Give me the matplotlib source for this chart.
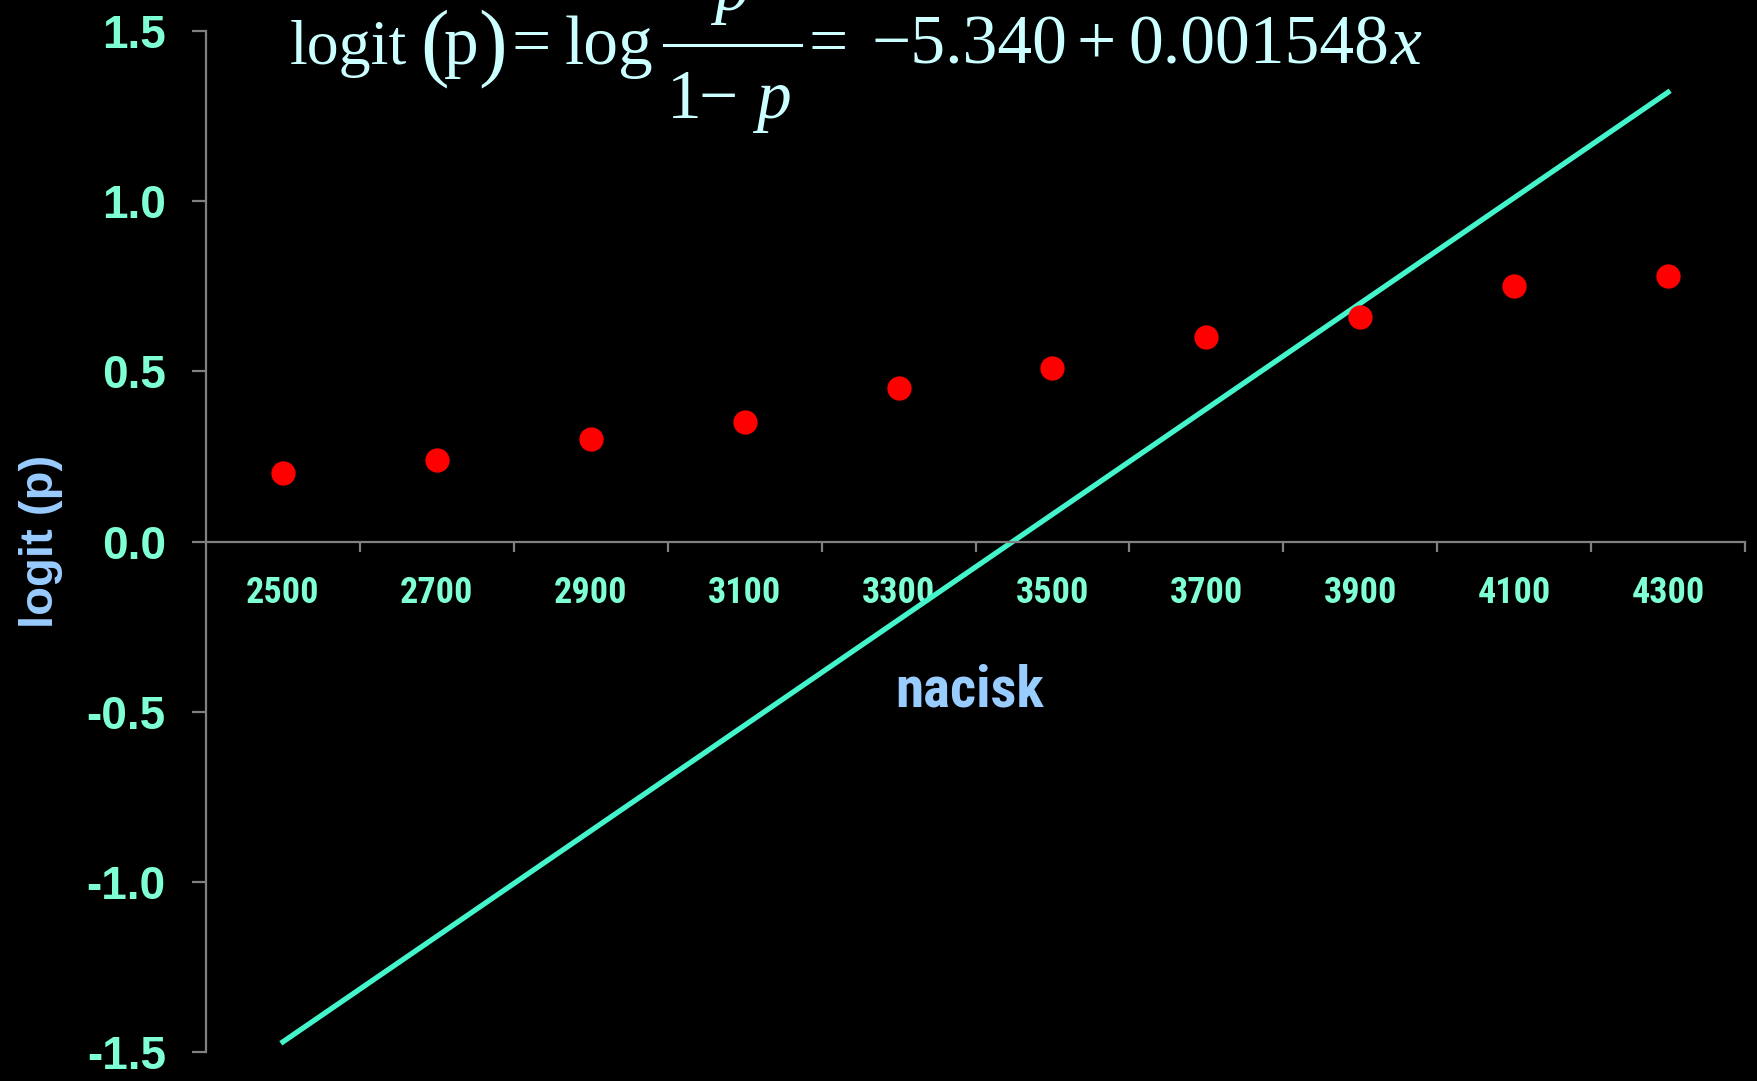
import matplotlib.pyplot as plt
from matplotlib.lines import Line2D
from matplotlib.ticker import FixedLocator, NullFormatter

# data
nacisk = [2500, 2700, 2900, 3100, 3300, 3500, 3700, 3900, 4100, 4300]
logit_p = [0.20, 0.24, 0.30, 0.35, 0.45, 0.51, 0.60, 0.66, 0.75, 0.78]
fit_x = [2500, 4300]
fit_y = [-1.47, 1.32]
y_ticks = [-1.5, -1.0, -0.5, 0.0, 0.5, 1.0, 1.5]
y_labels = ['-1.5', '-1.0', '-0.5', '0.0', '0.5', '1.0', '1.5']
x_bounds = [2600, 2800, 3000, 3200, 3400, 3600, 3800, 4000, 4200, 4400]
x_labels = [str(v) for v in nacisk]

tick_col = '#7FFFD4'
label_col = '#99CCFF'
line_col = '#44F5CC'
axis_col = '#808080'
eq_col = '#CCFFFF'
narrow = ['Roboto Condensed', 'DejaVu Sans Condensed', 'Liberation Sans']
serif = ['Liberation Serif', 'DejaVu Serif']

W, H = 1758, 1081
fig = plt.figure(figsize=(W / 100, H / 100), dpi=100, facecolor='black')
ax = fig.add_axes([0.1172, 0.0268, 0.8754, 0.9445], facecolor='black')

ax.plot(fit_x, fit_y, color=line_col, lw=3.8, zorder=2)
ax.plot(nacisk, logit_p, 'o', color='#FF0000', ms=17.5, mec='none', zorder=3)

ax.set_xlim(2400, 4400)
ax.set_ylim(-1.5, 1.5)

for s in ['top', 'right']:
    ax.spines[s].set_visible(False)
ax.spines['bottom'].set_position(('data', 0))
for s in ['left', 'bottom']:
    ax.spines[s].set_color(axis_col)
    ax.spines[s].set_linewidth(1.6)

ax.set_yticks(y_ticks)
ax.set_yticklabels(y_labels, fontsize=33, fontweight='bold',
                   family=['Liberation Sans', 'DejaVu Sans'], color=tick_col)
ax.tick_params(axis='y', length=10, width=1.6, color=axis_col, pad=19)

ax.xaxis.set_major_locator(FixedLocator(x_bounds))
ax.xaxis.set_major_formatter(NullFormatter())
ax.xaxis.set_minor_locator(FixedLocator(nacisk))
ax.set_xticklabels(x_labels, minor=True, fontsize=26, fontweight='bold',
                   family=narrow, color=tick_col)
ax.tick_params(axis='x', which='major', direction='out', length=7, width=1.6, color=axis_col)
ax.tick_params(axis='x', which='minor', length=0, pad=24)

ax.set_ylabel('logit (p)', fontsize=34, fontweight='bold', color=label_col,
              family=['Liberation Sans', 'DejaVu Sans'])
ax.yaxis.set_label_coords(-0.093, 0.5)

ax.text(0.496, 0.354, 'nacisk', transform=ax.transAxes, ha='center', va='center',
        fontsize=41, fontweight='bold', color=label_col, family=narrow)


# equation, set piece by piece in pixel positions
def eq(x, y, s, size=50, style='normal', va='baseline', ha='left'):
    fig.text(x / W, 1 - y / H, s, fontsize=size, style=style, family=serif,
             color=eq_col, ha=ha, va=va)


base = 64
eq(290, base, 'logit', size=46)
eq(420, 49, '(', size=62, va='center')
eq(444, base, 'p')
eq(478, 49, ')', size=62, va='center')
eq(512, base, '=')
eq(565, base, 'log')
fig.add_artist(Line2D([664 / W, 801 / W], [1 - 45 / H, 1 - 45 / H],
                      color=eq_col, lw=2.2, transform=fig.transFigure))
eq(731, 10, 'p', style='italic', ha='center')
eq(667, 118, '1')
eq(699, 118, '\u2212')
eq(756, 118, 'p', style='italic')
eq(809, base, '=')
eq(872, base, '\u22125.340')
eq(1076, base, '+')
eq(1128, base, '0.001548')
eq(1391, base, 'x', style='italic')

fig.savefig('out.png', dpi=100, facecolor='black')
